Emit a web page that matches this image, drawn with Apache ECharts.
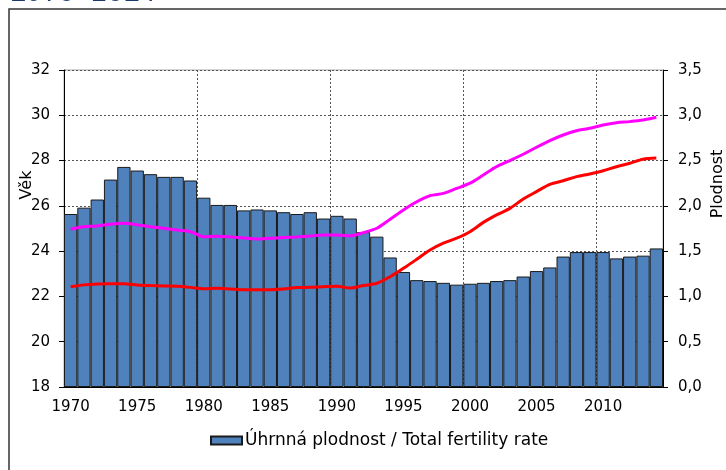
<!DOCTYPE html>
<html>
<head>
<meta charset="utf-8">
<script src="https://cdn.jsdelivr.net/npm/echarts@6/dist/echarts.min.js"></script>
<style>html,body{margin:0;padding:0;background:#fff;}#c{width:726px;height:470px;}</style>
</head>
<body>
<div id="c"></div>
<script>
const years = ['1970','1971','1972','1973','1974','1975','1976','1977','1978','1979','1980','1981','1982','1983','1984','1985','1986','1987','1988','1989','1990','1991','1992','1993','1994','1995','1996','1997','1998','1999','2000','2001','2002','2003','2004','2005','2006','2007','2008','2009','2010','2011','2012','2013','2014'];
const tfr = [1.91,1.98,2.07,2.29,2.43,2.39,2.35,2.32,2.32,2.28,2.09,2.01,2.01,1.95,1.96,1.95,1.93,1.91,1.93,1.86,1.89,1.86,1.71,1.66,1.43,1.27,1.18,1.17,1.15,1.13,1.14,1.15,1.17,1.18,1.22,1.28,1.32,1.44,1.49,1.49,1.49,1.42,1.44,1.45,1.53];
const meanAgeBirth = [24.97,25.08,25.11,25.19,25.23,25.16,25.08,25.01,24.93,24.86,24.64,24.66,24.63,24.58,24.54,24.57,24.60,24.63,24.67,24.71,24.71,24.68,24.82,25.01,25.41,25.82,26.18,26.45,26.55,26.77,27.00,27.36,27.73,28.00,28.28,28.59,28.88,29.13,29.32,29.43,29.57,29.67,29.72,29.79,29.91];
const meanAgeFirst = [22.43,22.51,22.55,22.56,22.56,22.51,22.48,22.46,22.45,22.40,22.34,22.36,22.33,22.30,22.29,22.30,22.33,22.39,22.40,22.43,22.45,22.37,22.48,22.58,22.87,23.24,23.64,24.05,24.35,24.57,24.86,25.27,25.60,25.89,26.30,26.63,26.95,27.11,27.29,27.41,27.55,27.73,27.88,28.06,28.11];

const chart = echarts.init(document.getElementById('c'), null, {renderer:'canvas'});
const font = 'DejaVu Sans';
chart.setOption({
  animation: false,
  textStyle: {fontFamily: font},
  grid: {left: 64, right: 63, top: 70, bottom: 83, show: true, borderColor: '#aaa', borderWidth: 1},
  legend: {
    data: [{name: 'Úhrnná plodnost / Total fertility rate', icon: 'rect'}],
    left: 205, top: 427,
    itemWidth: 31, itemHeight: 8, itemGap: 3,
    textStyle: {fontFamily: font, fontSize: 17, color: '#000', padding: [0,0,0,-2]}
  },
  graphic: [
    {type:'rect', shape:{x:9, y:9, width:800, height:600}, style:{fill:'none', stroke:'#333', lineWidth:1.5}, silent:true},
    {type:'text', x:10, y:7, style:{text:'1970-2014', font:'27px "Liberation Mono"', fill:'#1B3A6B', verticalAlign:'bottom'}},
    {type:'text', x:27, y:185, rotation:Math.PI/2, style:{text:'Věk', font:'16px "DejaVu Sans"', fill:'#000', align:'center', verticalAlign:'middle'}},
    {type:'text', x:718, y:184, rotation:Math.PI/2, style:{text:'Plodnost', font:'16px "DejaVu Sans"', fill:'#000', align:'center', verticalAlign:'middle'}}
  ],
  xAxis: {
    type: 'category', data: years, boundaryGap: true,
    axisLine: {lineStyle: {color: '#000', width: 1}},
    axisTick: {interval: 4, length: 5, lineStyle: {color: '#000'}},
    axisLabel: {interval: 4, margin: 13, fontSize: 15, color: '#000', fontFamily: font},
    splitLine: {show: true, interval: function(i){return i % 10 === 0 && i > 0;}, lineStyle: {color: '#555', type: [2,2], width: 1}}
  },
  yAxis: [
    {
      type: 'value', min: 18, max: 32, interval: 2,
      axisLine: {show: true, lineStyle: {color: '#000'}},
      axisTick: {show: true, length: 5, lineStyle: {color: '#000'}},
      axisLabel: {margin: 14, fontSize: 15, color: '#000', fontFamily: font},
      splitLine: {show: true, lineStyle: {color: '#555', type: [2,2], width: 1}}
    },
    {
      type: 'value', min: 0, max: 3.5, interval: 0.5, position: 'right',
      axisLine: {show: true, lineStyle: {color: '#000'}},
      axisTick: {show: true, length: 5, lineStyle: {color: '#000'}},
      axisLabel: {margin: 15, fontSize: 15, color: '#000', fontFamily: font, formatter: v => v.toFixed(1).replace('.', ',')},
      splitLine: {show: false}
    }
  ],
  series: [
    {
      name: 'Úhrnná plodnost / Total fertility rate', type: 'bar', yAxisIndex: 1, data: tfr,
      barCategoryGap: '0%',
      itemStyle: {color: '#4F81BD', borderColor: '#1a1a1a', borderWidth: 1}
    },
    {
      name: 'Průměrný věk matky', type: 'line', yAxisIndex: 0, data: meanAgeBirth,
      symbol: 'none', smooth: 0.3, lineStyle: {color: '#FF00FF', width: 3}, itemStyle: {color: '#FF00FF'}
    },
    {
      name: 'Průměrný věk matky při narození 1. dítěte', type: 'line', yAxisIndex: 0, data: meanAgeFirst,
      symbol: 'none', smooth: 0.3, lineStyle: {color: '#FF0000', width: 3}, itemStyle: {color: '#FF0000'}
    }
  ]
});
</script>
</body>
</html>
